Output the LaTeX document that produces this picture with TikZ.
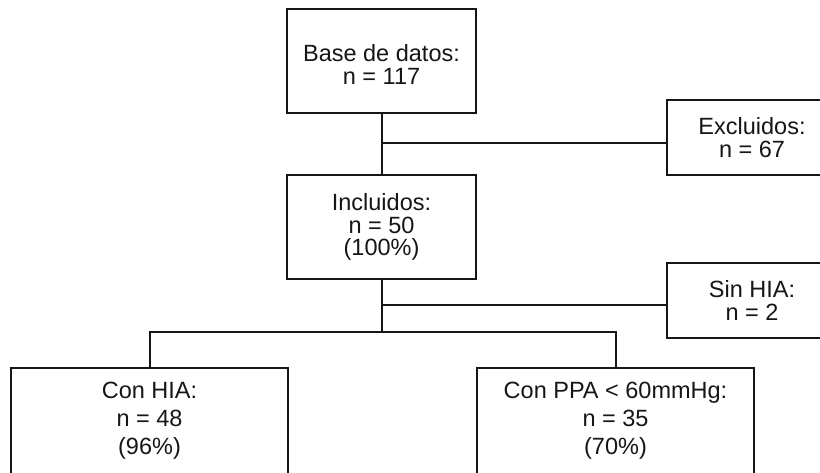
\documentclass[tikz,border=0pt]{standalone}
\usepackage{fontspec}
\setmainfont{Liberation Sans}
\definecolor{ink}{HTML}{161616}
\begin{document}
\begin{tikzpicture}[x=1pt,y=-1pt,
  box/.style={draw=ink, line width=1.8pt, fill=white, inner sep=0pt, align=center, text=ink,
              font={\fontsize{23.5}{22.5}\selectfont}},
  lowbox/.style={box, font={\fontsize{23.5}{28}\selectfont}},
  conn/.style={draw=ink, line width=2pt}]
\useasboundingbox[fill=white] (0,0) rectangle (820,472);
\node[box, minimum width=189pt, minimum height=104pt] (base) at (381.5,61) {\rule{0pt}{24pt}Base de datos:\\n = 117};
\node[box, minimum width=189pt, minimum height=104pt] (incl) at (381.5,227) {Incluidos:\\n = 50\\(100\%)};
\node[box, minimum width=170pt, minimum height=75pt] (excl) at (752,137.5) {Excluidos:\\n = 67};
\node[box, minimum width=170pt, minimum height=75pt] (sin) at (752,300.5) {Sin HIA:\\n = 2};
\node[lowbox, minimum width=277pt, minimum height=106pt] (conhia) at (149.5,421) {Con HIA:\\n = 48\\(96\%)};
\node[lowbox, minimum width=277pt, minimum height=106pt] (conppa) at (615.5,421) {Con PPA < 60mmHg:\\n = 35\\(70\%)};
\coordinate (j1) at (381.5,143);
\coordinate (j2) at (381.5,305);
\coordinate (j3) at (381.5,332);
\draw[conn] (base.south) -- (incl.north);
\draw[conn] (j1) -- (j1 -| excl.west);
\draw[conn] (incl.south) -- (j3);
\draw[conn] (j2) -- (j2 -| sin.west);
\draw[conn] (conhia.north) |- (j3) -| (conppa.north);
\end{tikzpicture}
\end{document}
